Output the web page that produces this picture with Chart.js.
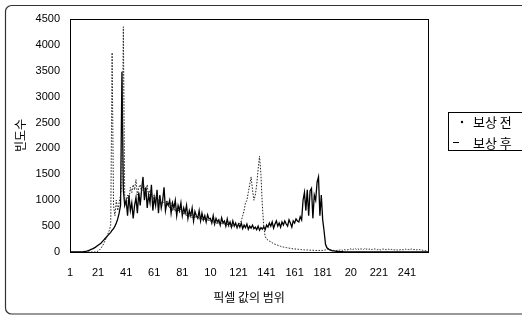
<!DOCTYPE html>
<html lang="ko">
<head>
<meta charset="UTF-8">
<title>픽셀 값의 범위 - 빈도수</title>
<script src="https://cdn.jsdelivr.net/npm/chart.js"></script>
<style>
  body { margin: 0; background: #fff; }
  #chart { display: block; }
</style>
</head>
<body>
<canvas id="chart" width="522" height="320"></canvas>
<script>
// 픽셀 값 1..256
var pixelValues = [];
for (var p = 1; p <= 256; p++) pixelValues.push(String(p));

// x축에 찍힌 라벨 (원본 그대로: 101 -> "10", 201 -> "20")
var xTickLabels = ['1', '21', '41', '61', '81', '10', '121', '141', '161', '181', '20', '221', '241'];
var yTicks = [0, 500, 1000, 1500, 2000, 2500, 3000, 3500, 4000, 4500];

// 보상 전 (점선)
var beforeComp = [
  0, 0, 0, 0, 0, 0, 0, 0, 0, 0,
  0, 0, 0, 0, 0, 0, 0, 0, 0, 0,
  20, 40, 70, 110, 160, 220, 280, 350, 420, 520,
  3850, 900, 700, 1000, 800, 950, 1100, 1300, 4350, 1000,
  900, 1100, 1000, 1250, 1150, 1300, 1200, 1400, 1100, 1250,
  1300, 1150, 1350, 1200, 1100, 1300, 1050, 1200, 1150, 1000,
  1100, 1000, 1150, 950, 1050, 900, 1000, 950, 880, 1000,
  900, 850, 950, 800, 900, 780, 850, 820, 760, 840,
  780, 720, 800, 700, 760, 680, 740, 660, 720, 650,
  700, 640, 680, 620, 660, 600, 650, 580, 630, 590,
  620, 560, 600, 540, 590, 530, 580, 520, 560, 540,
  560, 500, 550, 480, 540, 470, 520, 500, 530, 480,
  520, 560, 600, 700, 800, 950, 1000, 1150, 1300, 1450,
  1200, 1000, 1100, 1300, 1600, 1850, 1500, 900, 500, 300,
  250, 230, 210, 200, 180, 160, 150, 140, 130, 120,
  110, 100, 95, 90, 85, 80, 75, 70, 65, 60,
  60, 55, 55, 50, 50, 45, 45, 40, 40, 40,
  40, 35, 35, 35, 30, 30, 30, 30, 30, 30,
  30, 35, 40, 50, 60, 50, 40, 35, 30, 30,
  30, 40, 35, 45, 30, 50, 40, 35, 45, 50,
  60, 45, 55, 70, 50, 65, 45, 60, 55, 50,
  70, 55, 60, 50, 65, 45, 55, 60, 50, 45,
  55, 40, 50, 60, 45, 50, 40, 55, 45, 50,
  45, 40, 50, 35, 45, 40, 50, 45, 40, 55,
  45, 50, 40, 60, 50, 45, 55, 40, 50, 45,
  40, 35, 30, 25, 20, 10
];

// 보상 후 (실선)
var afterComp = [
  0, 0, 0, 0, 0, 0, 0, 0, 0, 0,
  5, 10, 15, 25, 35, 50, 60, 75, 90, 110,
  130, 150, 170, 200, 230, 260, 290, 320, 350, 380,
  420, 450, 500, 560, 640, 750, 900, 3480, 1200, 900,
  1000, 700, 1100, 800, 950, 650, 900, 1050, 750, 1150,
  900, 1200, 1450, 1000, 1250, 850, 1100, 950, 1300, 800,
  1050, 900, 1200, 750, 1100, 850, 1000, 1250, 800, 950,
  900, 1000, 750, 950, 850, 1000, 700, 900, 800, 950,
  700, 850, 750, 900, 650, 800, 700, 850, 600, 780,
  700, 650, 800, 600, 750, 620, 700, 580, 720, 640,
  650, 560, 700, 540, 650, 580, 620, 520, 660, 560,
  600, 500, 640, 520, 580, 480, 600, 500, 560, 470,
  540, 480, 560, 450, 520, 470, 540, 440, 500, 460,
  520, 450, 480, 430, 500, 420, 470, 440, 490, 430,
  520, 480, 560, 500, 580, 460, 540, 600, 500, 560,
  480, 580, 520, 600, 540, 500, 620, 560, 480, 600,
  560, 640, 600, 580, 680, 620, 1000, 1150, 800, 1200,
  700, 1180, 1230, 650, 1100, 1000, 1350, 1450, 700, 1100,
  620, 400, 150, 80, 60, 40, 30, 20, 20, 15,
  10, 10, 5, 5, 5, 0, 0, 0, 0, 0,
  0, 0, 0, 0, 0, 0, 0, 0, 0, 0,
  0, 0, 0, 0, 0, 0, 0, 0, 0, 0,
  0, 0, 0, 0, 0, 0, 0, 0, 0, 0,
  0, 0, 0, 0, 0, 0, 0, 0, 0, 0,
  0, 0, 0, 0, 0, 0, 0, 0, 0, 0,
  0, 0, 0, 0, 0, 0
];

var korFont = '"Noto Sans CJK KR", "DejaVu Sans", sans-serif';
var numFont = '"Liberation Sans", Arial, sans-serif';

// 바깥 테두리, 그림 영역 테두리, 범례 상자
var framePlugin = {
  id: 'frame',
  afterDraw: function (chart) {
    var ctx = chart.ctx;
    var a = chart.chartArea;
    ctx.save();
    ctx.strokeStyle = '#000';
    ctx.lineWidth = 1;
    ctx.strokeRect(Math.round(a.left) + 0.5, Math.round(a.top) + 0.5,
      Math.round(a.right - a.left), Math.round(a.bottom - a.top));

    // 바깥 둥근 테두리
    ctx.lineWidth = 1.2;
    ctx.strokeStyle = '#333';
    ctx.beginPath();
    ctx.roundRect(5.5, 5.5, 540, 308.5, 6);
    ctx.stroke();

    // 범례
    var lx = 448.5, ly = 112.5;
    ctx.lineWidth = 1;
    ctx.strokeStyle = '#000';
    ctx.strokeRect(lx, ly, 80, 38);
    ctx.fillStyle = '#000';
    ctx.beginPath();
    ctx.arc(462, 122, 1.2, 0, Math.PI * 2);
    ctx.fill();
    ctx.beginPath();
    ctx.moveTo(453, 142.5);
    ctx.lineTo(459, 142.5);
    ctx.stroke();
    ctx.font = '13px ' + korFont;
    ctx.textBaseline = 'middle';
    ctx.textAlign = 'left';
    ctx.fillText(chart.data.datasets[0].label, 473, 122);
    ctx.fillText(chart.data.datasets[1].label, 473, 143);
    ctx.restore();
  }
};

var ctx = document.getElementById('chart').getContext('2d');
var chart = new Chart(ctx, {
  type: 'line',
  data: {
    labels: pixelValues,
    datasets: [{
      label: '보상 전',
      data: beforeComp,
      borderColor: '#222',
      borderWidth: 1,
      borderDash: [1.5, 1.5],
      pointRadius: 0,
      tension: 0
    }, {
      label: '보상 후',
      data: afterComp,
      borderColor: '#000',
      borderWidth: 1.3,
      pointRadius: 0,
      tension: 0
    }]
  },
  options: {
    responsive: false,
    animation: false,
    devicePixelRatio: 1,
    layout: { padding: { left: 8, top: 19, right: 94, bottom: 0 } },
    plugins: {
      legend: { display: false },
      tooltip: { enabled: false }
    },
    scales: {
      x: {
        type: 'category',
        offset: false,
        afterFit: function (s) { s.height = 68; },
        grid: { display: false, drawTicks: false },
        border: { display: false },
        ticks: {
          autoSkip: false,
          maxRotation: 0,
          padding: 14,
          color: '#000',
          font: { family: numFont, size: 11 },
          callback: function (v, i) {
            return i % 20 === 0 ? xTickLabels[i / 20] : '';
          }
        },
        title: {
          display: true,
          text: '픽셀 값의 범위',
          color: '#000',
          font: { family: korFont, size: 12 },
          padding: { top: 0, bottom: 15 }
        }
      },
      y: {
        min: yTicks[0],
        max: yTicks[yTicks.length - 1],
        afterFit: function (s) { s.width = 62; },
        afterBuildTicks: function (s) {
          s.ticks = yTicks.map(function (v) { return { value: v }; });
        },
        grid: { display: false, drawTicks: false },
        border: { display: false },
        ticks: {
          padding: 10,
          color: '#000',
          font: { family: numFont, size: 11 },
          callback: function (v) { return String(v); }
        },
        title: {
          display: true,
          text: '빈도수',
          color: '#000',
          font: { family: korFont, size: 12 },
          padding: { top: 5, bottom: 0 }
        }
      }
    }
  },
  plugins: [framePlugin]
});
</script>
</body>
</html>
